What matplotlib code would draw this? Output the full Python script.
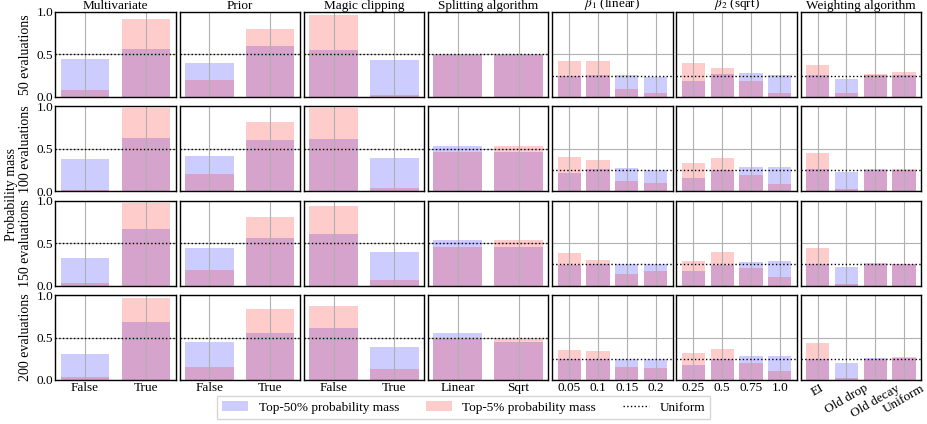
import numpy as np
import matplotlib
matplotlib.use("Agg")
import matplotlib.pyplot as plt

plt.rcParams['font.family'] = ['Liberation Serif', 'DejaVu Serif']
plt.rcParams['mathtext.fontset'] = 'stix'
plt.rcParams['font.size'] = 10

# ---- data ----
evaluations = [50, 100, 150, 200]
titles = ["Multivariate", "Prior", "Magic clipping", "Splitting algorithm",
          r"$\beta_1$ (linear)", r"$\beta_2$ (sqrt)", "Weighting algorithm"]
cats_bool = ["False", "True"]
cats_split = ["Linear", "Sqrt"]
cats_beta1 = ["0.05", "0.1", "0.15", "0.2"]
cats_beta2 = ["0.25", "0.5", "0.75", "1.0"]
cats_weight = ["EI", "Old drop", "Old decay", "Uniform"]

# one row per number of evaluations (50, 100, 150, 200)
multivariate_top50 = [[0.45, 0.56], [0.38, 0.63], [0.32, 0.67], [0.31, 0.68]]
multivariate_top5 = [[0.08, 0.92], [0.02, 0.985], [0.025, 0.975], [0.035, 0.965]]
prior_top50 = [[0.40, 0.60], [0.41, 0.60], [0.44, 0.56], [0.45, 0.55]]
prior_top5 = [[0.20, 0.80], [0.20, 0.81], [0.18, 0.81], [0.15, 0.835]]
magic_top50 = [[0.55, 0.435], [0.62, 0.395], [0.61, 0.395], [0.61, 0.39]]
magic_top5 = [[0.965, 0.02], [0.975, 0.04], [0.94, 0.063], [0.87, 0.13]]
split_top50 = [[0.49, 0.49], [0.535, 0.465], [0.535, 0.455], [0.553, 0.447]]
split_top5 = [[0.49, 0.49], [0.465, 0.535], [0.455, 0.54], [0.50, 0.50]]
beta1_top50 = [[0.24, 0.26, 0.26, 0.235], [0.215, 0.26, 0.275, 0.25],
               [0.245, 0.25, 0.255, 0.25], [0.25, 0.25, 0.25, 0.25]]
beta1_top5 = [[0.42, 0.42, 0.094, 0.05], [0.407, 0.37, 0.12, 0.10],
              [0.384, 0.302, 0.137, 0.173], [0.353, 0.341, 0.153, 0.141]]
beta2_top50 = [[0.185, 0.275, 0.285, 0.255], [0.158, 0.253, 0.289, 0.289],
               [0.173, 0.243, 0.278, 0.29], [0.176, 0.247, 0.282, 0.282]]
beta2_top5 = [[0.40, 0.34, 0.19, 0.05], [0.336, 0.395, 0.194, 0.087],
              [0.29, 0.396, 0.208, 0.102], [0.318, 0.365, 0.204, 0.106]]
weight_top50 = [[0.255, 0.21, 0.26, 0.26], [0.265, 0.229, 0.265, 0.253],
                [0.25, 0.225, 0.27, 0.255], [0.25, 0.20, 0.26, 0.26]]
weight_top5 = [[0.38, 0.05, 0.27, 0.29], [0.455, 0.028, 0.253, 0.265],
               [0.443, 0.02, 0.255, 0.255], [0.435, 0.024, 0.247, 0.271]]

columns = [
    (cats_bool, multivariate_top50, multivariate_top5),
    (cats_bool, prior_top50, prior_top5),
    (cats_bool, magic_top50, magic_top5),
    (cats_split, split_top50, split_top5),
    (cats_beta1, beta1_top50, beta1_top5),
    (cats_beta2, beta2_top50, beta2_top5),
    (cats_weight, weight_top50, weight_top5),
]

fig, axes = plt.subplots(4, 7, figsize=(9.27, 4.24), dpi=100, sharey=True)
plt.subplots_adjust(left=0.0597, right=0.9935, top=0.9717, bottom=0.1038,
                    wspace=0.033, hspace=0.112)

for c, (cats, top50, top5) in enumerate(columns):
    x = np.arange(len(cats))
    for r in range(4):
        ax = axes[r, c]
        b1 = ax.bar(x, top50[r], width=0.8, color='blue', alpha=0.2,
                    label='Top-50% probability mass')
        b2 = ax.bar(x, top5[r], width=0.8, color='red', alpha=0.2,
                    label='Top-5% probability mass')
        ln = ax.axhline(1 / len(cats), color='k', ls=':', lw=1, label='Uniform')
        ax.set_ylim(0, 1)
        ax.set_yticks([0, 0.5, 1.0])
        ax.set_yticklabels(["0.0", "0.5", "1.0"])
        ax.set_xticks(x)
        ax.grid(True)
        ax.tick_params(length=0, pad=1.5, labelsize=9.5)
        for s in ax.spines.values():
            s.set_color('black')
            s.set_linewidth(1.0)
        if r == 0:
            ax.set_title(titles[c], fontsize=9.5, pad=0.5)
        if c == 0:
            ax.set_ylabel(f"{evaluations[r]} evaluations", labelpad=3)
        if r == 3:
            if c == 6:
                ax.set_xticklabels(cats, rotation=30, ha='center')
            else:
                ax.set_xticklabels(cats)
        else:
            ax.tick_params(labelbottom=False)

# shared label for all rows, just left of the per-row labels
fig.text(12 / 927, 0.542, "Probability mass", rotation=90,
         va='center', ha='center', fontsize=10)

fig.legend([b1, b2, ln],
           ['Top-50% probability mass', 'Top-5% probability mass', 'Uniform'],
           loc='lower center', bbox_to_anchor=(0.5, 0.012),
           ncol=3, fancybox=False, fontsize=9.5, borderaxespad=0)

plt.savefig("out.png", dpi=100)
